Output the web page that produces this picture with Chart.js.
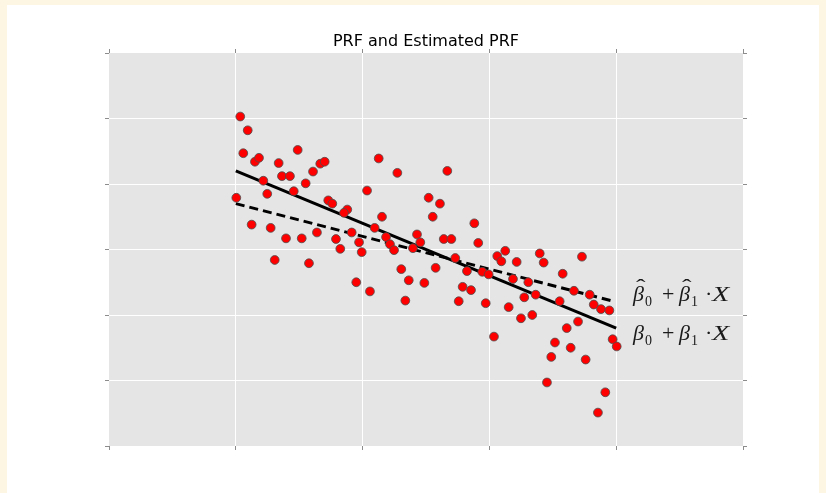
<!DOCTYPE html>
<html>
<head>
<meta charset="utf-8">
<script src="https://cdn.jsdelivr.net/npm/chart.js@4.4.1/dist/chart.umd.min.js"></script>
<style>
    html, body { margin: 0; padding: 0; background: #fdf6e3; }
    body { width: 826px; height: 493px; overflow: hidden; position: relative; }
    #card { position: absolute; left: 7px; top: 5px; width: 812px; height: 488px; background: #fff; }
</style>
</head>
<body>
<div id="card"><canvas id="prfChart" width="812" height="488"></canvas></div>
<script>
// Sample points (X, Y)
const xValues = [1.035, 1.094, 1.059, 1.151, 1.183, 1.488, 1.338, 1.364, 1.427, 1.666,
    1.701, 1.609, 1.551, 1.217, 1.248, 1.457, 1.004, 1.729, 1.761, 1.879,
    1.853, 1.125, 1.275, 1.396, 1.520, 1.640, 1.790, 1.914, 1.972, 1.824,
    1.993, 1.307, 1.577,
    2.127, 2.274, 2.668, 2.035, 2.521, 2.610, 2.553, 2.153, 2.881, 2.095,
    2.429, 2.185, 2.455, 2.640, 2.700, 2.912, 2.216, 2.248, 2.397, 2.731,
    2.058, 2.305, 2.364, 2.487, 2.576, 2.337, 2.823, 2.944, 2.994, 2.789,
    2.855, 2.758, 2.971, 1.950,
    3.062, 3.125, 3.094, 3.215, 3.397, 3.428, 3.730,
    3.186, 3.307, 3.578, 3.275, 3.365, 3.152, 3.249, 3.338, 3.667, 3.554,
    3.791, 3.823, 3.880, 3.946, 3.036, 3.699, 3.610, 3.517, 3.641, 3.488,
    3.759, 3.972, 4.004, 3.454, 3.914, 3.856];
const yValues = [5.03, 4.82, 4.47, 4.34, 4.40, 4.52, 4.32, 4.12, 4.12, 4.31,
    4.34, 4.19, 4.01, 4.05, 3.85, 3.89, 3.79, 3.75, 3.70, 3.61,
    3.56, 3.38, 3.33, 3.17, 3.17, 3.26, 3.16, 3.26, 3.11, 3.01,
    2.96, 2.84, 2.79,
    4.39, 4.17, 4.20, 3.90, 3.79, 3.70, 3.50, 3.50, 3.40, 3.33,
    3.23, 3.19, 3.11, 3.16, 3.16, 3.10, 3.08, 2.99, 3.02, 2.87,
    2.36, 2.70, 2.53, 2.49, 2.72, 2.22, 2.67, 2.66, 2.62, 2.43,
    2.38, 2.21, 2.18, 2.50,
    2.90, 2.98, 2.82, 2.81, 2.94, 2.80, 2.89,
    2.55, 2.50, 2.63, 2.27, 2.31, 2.12, 1.95, 2.00, 2.37, 2.21,
    2.31, 2.16, 2.09, 2.07, 1.67, 1.90, 1.80, 1.58, 1.50, 1.36,
    1.32, 1.63, 1.52, 0.97, 0.82, 0.51];

// Population regression line end points
const prfX = [1.0, 4.0];
const prfY = [4.20, 1.80];
// Estimated regression line end points
const estX = [1.0, 3.97];
const estY = [3.70, 2.215];

const chartTitle = 'PRF and Estimated PRF';
const legendRows = [{ hat: true }, { hat: false }];

const toPoints = (xs, ys) => xs.map((x, i) => ({ x: x, y: ys[i] }));

// gray panel behind the plot, ggplot style
const plotBackground = {
    id: 'plotBackground',
    beforeDraw(chart) {
        const { ctx, chartArea: a } = chart;
        ctx.save();
        ctx.fillStyle = '#e5e5e5';
        ctx.fillRect(a.left, a.top, a.right - a.left, a.bottom - a.top);
        ctx.restore();
    }
};

// beta_0 + beta_1 . X, drawn piece by piece
function drawFormula(ctx, x, y, hat) {
    const serif = '"Liberation Serif", "DejaVu Serif", serif';
    ctx.save();
    ctx.fillStyle = '#1a1a1a';
    ctx.textBaseline = 'alphabetic';
    const beta = (bx, sub) => {
        ctx.font = 'italic 22px ' + serif;
        ctx.fillText('β', bx, y);
        if (hat) {
            ctx.save();
            ctx.font = '22px ' + serif;
            ctx.translate(bx + 3, y - 7);
            ctx.scale(1.3, 1);
            ctx.fillText('ˆ', 0, 0);
            ctx.restore();
        }
        ctx.font = '14px ' + serif;
        ctx.fillText(sub, bx + 12, y + 5);
    };
    beta(x, '0');
    ctx.font = '22px ' + serif;
    ctx.fillText('+', x + 29, y);
    beta(x + 46, '1');
    ctx.font = '22px ' + serif;
    ctx.fillText('·', x + 72, y);
    ctx.save();
    ctx.font = 'italic 21px ' + serif;
    ctx.translate(x + 79, y);
    ctx.scale(1.35, 1);
    ctx.fillText('X', 0, 0);
    ctx.restore();
    ctx.restore();
}

const mathLegend = {
    id: 'mathLegend',
    afterDraw(chart) {
        const { ctx, chartArea: a } = chart;
        legendRows.forEach((row, i) => {
            drawFormula(ctx, a.right - 110, a.top + 248 + i * 39, row.hat);
        });
    }
};

const edgeLess = (max) => (c) => (c.tick.value === 0 || c.tick.value === max) ? 'rgba(0,0,0,0)' : '#ffffff';

function axis(position, max, onArea) {
    return {
        type: 'linear',
        position: position,
        min: 0,
        max: max,
        ticks: { display: false, stepSize: 1 },
        grid: {
            drawOnChartArea: onArea,
            color: edgeLess(max),
            lineWidth: 1,
            tickColor: '#8c8c8c',
            tickLength: 4,
            tickWidth: 1
        },
        border: { display: false }
    };
}

const ctx = document.getElementById('prfChart').getContext('2d');
const prfChart = new Chart(ctx, {
    type: 'scatter',
    data: {
        datasets: [{
            label: 'Sample',
            data: toPoints(xValues, yValues),
            backgroundColor: '#ff0000',
            borderColor: '#4d4d4d',
            borderWidth: 0.8,
            pointRadius: 4.4,
            order: 0
        }, {
            label: 'Estimated PRF',
            type: 'line',
            data: toPoints(estX, estY),
            borderColor: '#000000',
            borderWidth: 3,
            borderDash: [9, 5],
            pointRadius: 0,
            fill: false,
            order: 1
        }, {
            label: 'PRF',
            type: 'line',
            data: toPoints(prfX, prfY),
            borderColor: '#000000',
            borderWidth: 3,
            pointRadius: 0,
            fill: false,
            order: 2
        }]
    },
    options: {
        responsive: false,
        animation: false,
        layout: {
            padding: { left: 98, right: 72, top: 30, bottom: 43 }
        },
        scales: {
            x: axis('bottom', 5, true),
            x2: Object.assign(axis('top', 5, false), { axis: 'x' }),
            y: axis('left', 6, true),
            y2: Object.assign(axis('right', 6, false), { axis: 'y' })
        },
        plugins: {
            legend: { display: false },
            tooltip: { enabled: false },
            title: {
                display: true,
                text: chartTitle,
                color: '#000000',
                font: { family: '"DejaVu Sans"', size: 16, weight: 'normal', lineHeight: 0.875 },
                padding: { top: 0, bottom: 0 }
            }
        }
    },
    plugins: [plotBackground, mathLegend]
});
</script>
</body>
</html>
